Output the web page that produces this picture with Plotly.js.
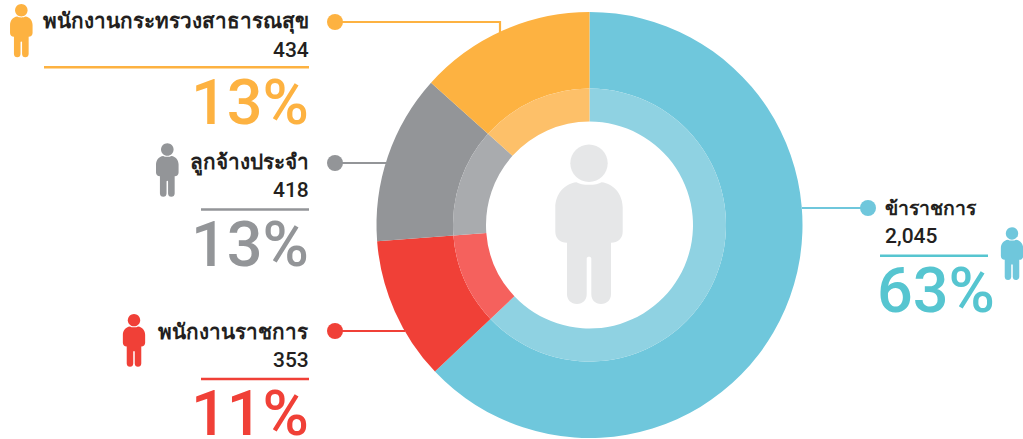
<!DOCTYPE html>
<html><head><meta charset="utf-8">
<script src="https://cdn.plot.ly/plotly-3.0.1.min.js"></script>
<style>html,body{margin:0;padding:0;background:#fff}#c{width:1023px;height:439px}</style>
</head><body><div id="c"></div>
<script>
const categories = ["ข้าราชการ","พนักงานราชการ","ลูกจ้างประจำ","พนักงานกระทรวงสาธารณสุข"];
const counts = [2045,353,418,434];
const countLabels = ["2,045","353","418","434"];
const percents = ["63%","11%","13%","13%"];
const outerColors = ["#6FC7DC","#F04037","#939598","#FDB241"];
const innerColors = ["#8FD2E2","#F5615D","#A9ABAE","#FDC069"];
const pctColors = ["#56C5D0","#F04037","#939598","#FDB241"];
const W=1023,H=439,CX=589.5,CY=225,R1=213,R2=136.5,R0=103.5;
const px=x=>x/W, py=y=>1-y/H;
const FONT='Roboto, "Liberation Sans", "Noto Sans", sans-serif';

function pie(r,hole,colors){
  return {type:'pie',labels:categories,values:counts,sort:false,direction:'clockwise',rotation:0,
    hole:hole,textinfo:'none',hoverinfo:'label+value+percent',showlegend:false,
    marker:{colors:colors,line:{width:0}},
    domain:{x:[px(CX-r),px(CX+r)],y:[py(CY+r),py(CY-r)]}};
}
function P(x,y){return px(x).toFixed(5)+','+py(y).toFixed(5);}
function person(cx,top,h,color){
  const s=h/159.4, X=v=>cx+v*s, Y=v=>top+v*s;
  const pt=(a,b)=>P(X(a),Y(b));
  const k=18.7;
  const head='M'+pt(-k,18.7)+' C'+pt(-k,8.4)+' '+pt(-10.3,0)+' '+pt(0,0)+' C'+pt(10.3,0)+' '+pt(k,8.4)+' '+pt(k,18.7)+
    ' C'+pt(k,29)+' '+pt(10.3,37.4)+' '+pt(0,37.4)+' C'+pt(-10.3,37.4)+' '+pt(-k,29)+' '+pt(-k,18.7)+' Z';
  const body='M'+pt(-12.5,37.6)+' C'+pt(-8,41)+' '+pt(8,41)+' '+pt(12.5,37.6)+
    ' C'+pt(25,39)+' '+pt(33.7,50)+' '+pt(33.7,63)+' L'+pt(33.7,87)+' C'+pt(33.7,94)+' '+pt(29,98.2)+' '+pt(22,98.2)+
    ' L'+pt(22,149.5)+' C'+pt(22,155.5)+' '+pt(18,159.4)+' '+pt(12,159.4)+' C'+pt(6,159.4)+' '+pt(2.3,155.5)+' '+pt(2.3,149.5)+
    ' L'+pt(2.3,114)+' C'+pt(2.3,111.5)+' '+pt(-2.3,111.5)+' '+pt(-2.3,114)+
    ' L'+pt(-2.3,149.5)+' C'+pt(-2.3,155.5)+' '+pt(-6,159.4)+' '+pt(-12,159.4)+' C'+pt(-18,159.4)+' '+pt(-22,155.5)+' '+pt(-22,149.5)+
    ' L'+pt(-22,98.2)+' C'+pt(-29,98.2)+' '+pt(-33.7,94)+' '+pt(-33.7,87)+' L'+pt(-33.7,63)+' C'+pt(-33.7,50)+' '+pt(-25,39)+' '+pt(-12.5,37.6)+' Z';
  return [head,body].map(d=>({type:'path',xref:'paper',yref:'paper',path:d,fillcolor:color,line:{width:0},layer:'above'}));
}
function hline(x0,y0,x1,y1,c,w){return {type:'line',xref:'paper',yref:'paper',x0:px(x0),y0:py(y0),x1:px(x1),y1:py(y1),line:{color:c,width:w},layer:'above'};}
function dot(x,y,c){const r=8;return {type:'circle',xref:'paper',yref:'paper',x0:px(x-r),x1:px(x+r),y0:py(y+r),y1:py(y-r),fillcolor:c,line:{width:0},layer:'above'};}
function txt(t,x,y,size,color,anchor,weight,h){const a={text:t,xref:'paper',yref:'paper',x:px(x),y:py(y),xanchor:anchor,yanchor:'middle',showarrow:false,borderpad:0,
  font:{family:FONT,size:size,color:color,weight:weight}}; if(h)a.height=h; return a;}

const shapes=[].concat(
  person(589,144.6,159.4,'#E6E7E8'),
  person(1012,227.3,52.7,'#6FC7DC'),
  person(134,314,52.7,outerColors[1]),
  person(167.3,143.3,53.4,outerColors[2]),
  person(21.3,4,53.3,outerColors[3]),
  [
   hline(500,22,335,22,outerColors[3],2.2), hline(500,21,500,33,outerColors[3],2.2), dot(335,22,outerColors[3]),
   hline(335,163,387,163,outerColors[2],2.2), dot(335,163,outerColors[2]),
   hline(335,331,405,331,outerColors[1],2.2), dot(335,331,outerColors[1]),
   hline(802,208,868,208,outerColors[0],2.2), dot(868,208,outerColors[0]),
   hline(44,67.3,309,67.3,outerColors[3],2.5),
   hline(201,209.5,309,209.5,outerColors[2],2.5),
   hline(201,379,309,379,outerColors[1],2.5),
   hline(880,255.8,988,255.8,pctColors[0],2.5)
  ]);
const dark='#231F20';
const L=20.7,N=21,B=63,PH=50;
const annotations=[
  txt(categories[3],309.5,22,L,dark,'right',600), txt(countLabels[3],309.5,50,N,dark,'right',500), txt(percents[3],310,102,B,pctColors[3],'right',500,PH),
  txt(categories[2],309.5,163,L,dark,'right',600), txt(countLabels[2],309.5,190,N,dark,'right',500), txt(percents[2],310,244,B,pctColors[2],'right',500,PH),
  txt(categories[1],309.5,332,L,dark,'right',600), txt(countLabels[1],309.5,360,N,dark,'right',500), txt(percents[1],310,413,B,pctColors[1],'right',500,PH),
  txt(categories[0],884,208,19.4,dark,'left',600), txt(countLabels[0],884,236,N,dark,'left',500), txt(percents[0],876,290,B,pctColors[0],'left',500,PH)
];
Plotly.newPlot('c',[pie(R1,R2/R1,outerColors),pie(R2,R0/R2,innerColors)],
 {width:W,height:H,margin:{l:0,r:0,t:0,b:0},paper_bgcolor:'#fff',shapes:shapes,annotations:annotations,showlegend:false},
 {displayModeBar:false,staticPlot:true});
</script></body></html>
